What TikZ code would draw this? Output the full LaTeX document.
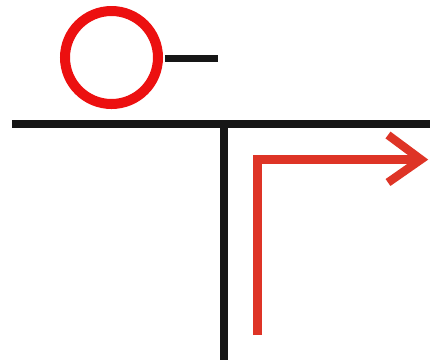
\documentclass[tikz,border=0pt]{standalone}
\usetikzlibrary{calc}
\definecolor{ringred}{RGB}{236,16,16}
\definecolor{pathred}{RGB}{222,52,38}
\definecolor{barblack}{RGB}{22,22,22}

\begin{document}
\begin{tikzpicture}[
    x=0.02cm, y=-0.02cm,
    wall/.style={draw=barblack, line width=4.5pt},
    route/.style={draw=pathred, line width=4.8pt, miter limit=10}
  ]
  \useasboundingbox (0,0) rectangle (430,360);

  % Valve symbol
  \node[circle, draw=ringred, line width=5.7pt, minimum size=1.86cm,
        inner sep=0pt] (ring) at (111.5,57.5) {};
  \coordinate (stubA) at (165,58.5);
  \coordinate (stubB) at (218,58.5);
  \draw[wall, line width=4pt] (stubA) -- (stubB);

  % Pipe tee
  \coordinate (left) at (12,124);
  \coordinate (right) at (430,124);
  \coordinate (joint) at (224,124);
  \coordinate (foot) at (224,360);
  \draw[wall] (left) -- (right);
  \draw[wall] (joint) -- (foot);

  % Flow direction
  \coordinate (start) at (257.5,335);
  \coordinate (tip) at (421,159.5);
  \draw[route] (start) |- (tip);
  \draw[route] ($(tip)+(-33,-24.5)$) -- (tip) -- ($(tip)+(-33,23)$);
\end{tikzpicture}
\end{document}
